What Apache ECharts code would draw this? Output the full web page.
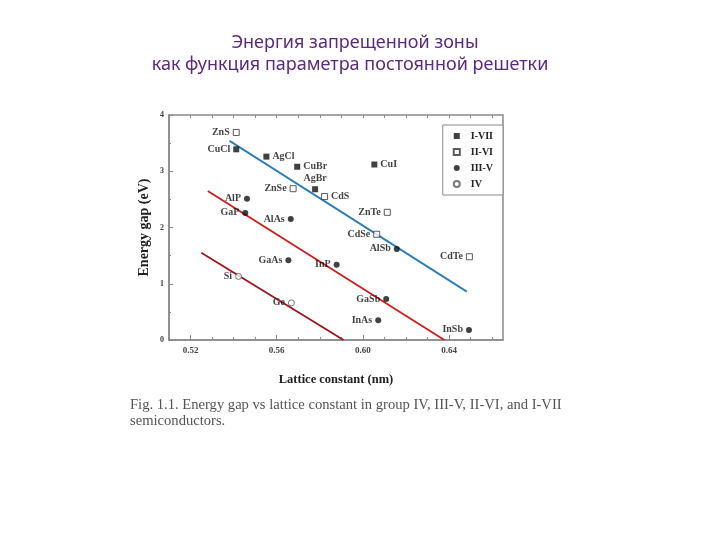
<!DOCTYPE html>
<html><head><meta charset="utf-8">
<script src="https://cdn.jsdelivr.net/npm/echarts@6/dist/echarts.min.js"></script>
<style>html,body{margin:0;padding:0;background:#fff}#c{width:720px;height:540px}</style>
</head><body><div id="c"></div>
<script>
// ---- data ----
const groupNames = ['I-VII', 'II-VI', 'III-V', 'IV'];
const iviiNames = ['CuCl', 'AgCl', 'CuBr', 'AgBr', 'CuI'];
const iviiX = [0.5412, 0.5552, 0.5695, 0.5778, 0.6053];
const iviiY = [3.39, 3.26, 3.08, 2.68, 3.12];
const iiviNames = ['ZnS', 'ZnSe', 'CdS', 'ZnTe', 'CdSe', 'CdTe'];
const iiviX = [0.5412, 0.5676, 0.5822, 0.6113, 0.6064, 0.6494];
const iiviY = [3.69, 2.69, 2.55, 2.27, 1.88, 1.48];
const iiivNames = ['AlP', 'GaP', 'AlAs', 'GaAs', 'InP', 'AlSb', 'GaSb', 'InAs', 'InSb'];
const iiivX = [0.5462, 0.5454, 0.5665, 0.5654, 0.5878, 0.6157, 0.6108, 0.6071, 0.6492];
const iiivY = [2.51, 2.26, 2.15, 1.42, 1.34, 1.62, 0.73, 0.35, 0.18];
const ivNames = ['Si', 'Ge'];
const ivX = [0.5423, 0.5668];
const ivY = [1.13, 0.66];
const trendBlue = [[0.5381, 3.54], [0.6482, 0.86]];
const trendRed = [[0.528, 2.65], [0.6378, 0.0]];
const trendDark = [[0.525, 1.55], [0.591, 0.0]];
const xMajorTicks = [0.52, 0.56, 0.60, 0.64];
const xMinorTicks = [0.51, 0.52, 0.53, 0.54, 0.55, 0.56, 0.57, 0.58, 0.59, 0.60, 0.61, 0.62, 0.63, 0.64, 0.65, 0.66];
const titleLines = ['Энергия запрещенной зоны', 'как функция параметра постоянной решетки'];
const captionLines = ['Fig. 1.1. Energy gap vs lattice constant in group IV, III-V, II-VI, and I-VII', 'semiconductors.'];
const xAxisName = 'Lattice constant (nm)';
const yAxisName = 'Energy gap (eV)';

// label placement (style)
const labelSide = { CuBr: 'right', AgCl: 'right', CuI: 'right', CdS: 'right', AgBr: 'top' };

const serif = '"Liberation Serif", "DejaVu Serif", serif';
const axisGray = '#8a8a8a';

function pts(names, xs, ys) {
  return names.map((n, i) => ({
    name: n, value: [xs[i], ys[i]],
    label: { position: labelSide[n] || 'left' }
  }));
}
const lbl = { show: true, formatter: '{b}', color: '#111', fontFamily: serif, fontWeight: 'bold', fontSize: 10, distance: 3 };

const chart = echarts.init(document.getElementById('c'), null, { renderer: 'canvas' });
chart.setOption({
  backgroundColor: '#fff',
  animation: false,
  grid: { left: 169, top: 115, right: 217, bottom: 200, show: true, borderColor: axisGray, borderWidth: 1.5, backgroundColor: 'transparent' },
  graphic: [
    { type: 'text', x: 355, y: 34, style: { text: titleLines[0], fill: '#5a2a7e', font: '18px "Noto Sans", sans-serif', textAlign: 'center' } },
    { type: 'text', x: 350, y: 56, style: { text: titleLines[1], fill: '#5a2a7e', font: '18px "Noto Sans", sans-serif', textAlign: 'center' } },
    { type: 'text', x: 130, y: 398, style: { text: captionLines[0], fill: '#555', font: '14.6px ' + serif } },
    { type: 'text', x: 130, y: 414, style: { text: captionLines[1], fill: '#555', font: '14.6px ' + serif } }
  ],
  legend: {
    data: groupNames, orient: 'vertical', right: 217, top: 125, width: 62,
    backgroundColor: '#fff', borderColor: axisGray, borderWidth: 1,
    padding: [6, 10, 6, 10], itemGap: 6, itemWidth: 6, itemHeight: 6,
    textStyle: { fontFamily: serif, fontWeight: 'bold', fontSize: 10, color: '#222', padding: [0, 0, 0, 6] }
  },
  xAxis: [
    {
      type: 'value', min: 0.51, max: 0.665,
      name: xAxisName, nameLocation: 'middle', nameGap: 33,
      nameTextStyle: { fontFamily: serif, fontWeight: 'bold', fontSize: 12.5, color: '#222' },
      axisLine: { lineStyle: { color: axisGray, width: 1.5 } },
      axisTick: { show: true, inside: true, length: 5, customValues: xMajorTicks, lineStyle: { color: axisGray } },
      axisLabel: { customValues: xMajorTicks, formatter: v => v.toFixed(2), fontFamily: serif, fontWeight: 'bold', fontSize: 9, color: '#444', margin: 6 },
      splitLine: { show: false }
    },
    {
      type: 'value', min: 0.51, max: 0.665, position: 'bottom',
      axisLine: { show: false },
      axisTick: { show: true, inside: true, length: 3, customValues: xMinorTicks, lineStyle: { color: axisGray } },
      axisLabel: { show: false }, splitLine: { show: false }
    },
    {
      type: 'value', min: 0.51, max: 0.665, position: 'top',
      axisLine: { show: false },
      axisTick: { show: true, inside: true, length: 3, customValues: xMinorTicks, lineStyle: { color: axisGray } },
      axisLabel: { show: false }, splitLine: { show: false }
    }
  ],
  yAxis: [
    {
      type: 'value', min: 0, max: 4, interval: 1,
      name: yAxisName, nameLocation: 'middle', nameGap: 18,
      nameTextStyle: { fontFamily: serif, fontWeight: 'bold', fontSize: 14, color: '#222' },
      axisLine: { show: true, lineStyle: { color: axisGray, width: 1.5 } },
      axisTick: { show: true, inside: true, length: 4, lineStyle: { color: axisGray } },
      minorTick: { show: true, splitNumber: 2, length: 2, lineStyle: { color: axisGray } },
      axisLabel: { formatter: v => String(v), fontFamily: serif, fontWeight: 'bold', fontSize: 8, color: '#444', margin: 5 },
      splitLine: { show: false }
    }
  ],
  series: [
    { type: 'line', data: trendBlue, symbol: 'none', silent: true, lineStyle: { color: '#2a7fb8', width: 1.8 }, z: 1 },
    { type: 'line', data: trendRed, symbol: 'none', silent: true, lineStyle: { color: '#d01c1c', width: 1.8 }, z: 1 },
    { type: 'line', data: trendDark, symbol: 'none', silent: true, lineStyle: { color: '#a0141c', width: 1.8 }, z: 1 },
    { name: groupNames[0], type: 'scatter', data: pts(iviiNames, iviiX, iviiY), symbol: 'rect', symbolSize: 6,
      itemStyle: { color: '#111' }, label: lbl, z: 3 },
    { name: groupNames[1], type: 'scatter', data: pts(iiviNames, iiviX, iiviY), symbol: 'rect', symbolSize: 6,
      itemStyle: { color: '#fff', borderColor: '#333', borderWidth: 1 }, label: lbl, z: 3 },
    { name: groupNames[2], type: 'scatter', data: pts(iiivNames, iiivX, iiivY), symbol: 'circle', symbolSize: 6,
      itemStyle: { color: '#111' }, label: lbl, z: 3 },
    { name: groupNames[3], type: 'scatter', data: pts(ivNames, ivX, ivY), symbol: 'circle', symbolSize: 6,
      itemStyle: { color: '#fff', borderColor: '#555', borderWidth: 1 }, label: lbl, z: 3 }
  ]
});
</script></body></html>
